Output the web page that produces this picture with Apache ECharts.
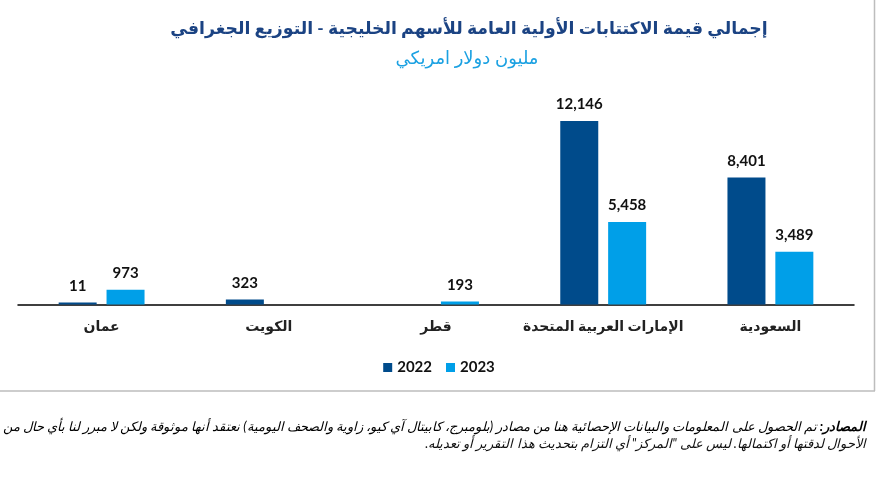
<!DOCTYPE html>
<html>
<head>
<meta charset="utf-8">
<script src="https://cdn.jsdelivr.net/npm/echarts@6/dist/echarts.min.js"></script>
<style>
html,body{margin:0;padding:0;background:#fff;}
#c{width:878px;height:477px;direction:rtl;}
</style>
</head>
<body>
<div id="c"></div>
<script>
var categories = ['عمان', 'الكويت', 'قطر', 'الإمارات العربية المتحدة', 'السعودية'];
var seriesNames = ['2022', '2023'];
var values2022 = [11, 323, null, 12146, 8401];
var values2023 = [973, null, 193, 5458, 3489];
var titleText = 'إجمالي قيمة الاكتتابات الأولية العامة للأسهم الخليجية - التوزيع الجغرافي';
var subtitleText = 'مليون دولار امريكي';
var sourceLabel = 'المصادر:';
var sourceLine1 = 'تم الحصول على المعلومات والبيانات الإحصائية هنا من مصادر (بلومبرج، كابيتال آي كيو، زاوية والصحف اليومية) نعتقد أنها موثوقة ولكن لا مبرر لنا بأي حال من';
var sourceLine2 = 'الأحوال لدقتها أو اكتمالها. ليس على "المركز" أي التزام بتحديث هذا التقرير أو تعديله.';

var FONT = 'Lato, "DejaVu Sans", sans-serif';
var chart = echarts.init(document.getElementById('c'), null, {renderer: 'canvas'});
var fmt = function (p) { return p.value == null ? '' : Number(p.value).toLocaleString('en-US'); };
var labelCfg = {show: true, position: 'top', distance: 9, formatter: fmt,
  fontFamily: FONT, fontWeight: 'bold', fontSize: 15, color: '#111'};

chart.setOption({
  animation: false,
  backgroundColor: '#fff',
  title: [
    {text: titleText, left: 464, top: 15, textAlign: 'center',
     textStyle: {fontFamily: FONT, fontWeight: 'bold', fontSize: 17.3, color: '#1b4383'}},
    {text: subtitleText, left: 462, top: 44, textAlign: 'center',
     textStyle: {fontFamily: FONT, fontWeight: 'normal', fontSize: 18, color: '#1ba1e2'}}
  ],
  legend: {
    data: seriesNames, left: 'center', top: 355,
    icon: 'rect', itemWidth: 9, itemHeight: 9, itemGap: 14,
    textStyle: {fontFamily: FONT, fontWeight: 'bold', fontSize: 15, color: '#111'}
  },
  grid: {left: 18, right: 24, top: 92.9, bottom: 172.5},
  xAxis: {
    type: 'category', data: categories,
    axisLine: {lineStyle: {color: '#000', width: 1.5}},
    axisTick: {show: false},
    axisLabel: {interval: 0, margin: 15, fontFamily: FONT, fontWeight: 'bold', fontSize: 14, color: '#222'}
  },
  yAxis: {type: 'value', min: 0, max: 14000, show: false, splitLine: {show: false}},
  series: [
    {name: seriesNames[0], type: 'bar', data: values2022, barWidth: 38, barGap: '26%', barMinHeight: 2,
     itemStyle: {color: '#004b8b'}, label: labelCfg},
    {name: seriesNames[1], type: 'bar', data: values2023, barWidth: 38,
     itemStyle: {color: '#009fe8'}, label: labelCfg}
  ],
  graphic: [
    {type: 'line', shape: {x1: 874.5, y1: 0, x2: 874.5, y2: 391}, style: {stroke: '#bdbdbd', lineWidth: 1.5}},
    {type: 'line', shape: {x1: 0, y1: 391, x2: 875, y2: 391}, style: {stroke: '#bdbdbd', lineWidth: 1.5}},
    {type: 'text', right: 12, top: 420,
     style: {text: '{n| ' + sourceLine1 + '}{b|' + sourceLabel + '}',
       rich: {n: {fontFamily: FONT, fontStyle: 'italic', fontSize: 13, color: '#111'},
              b: {fontFamily: FONT, fontStyle: 'italic', fontWeight: 'bold', fontSize: 13, color: '#111'}}}},
    {type: 'text', right: 12, top: 437,
     style: {text: sourceLine2, fontFamily: FONT, fontStyle: 'italic', fontSize: 13, fill: '#111'}}
  ]
});
</script>
</body>
</html>
